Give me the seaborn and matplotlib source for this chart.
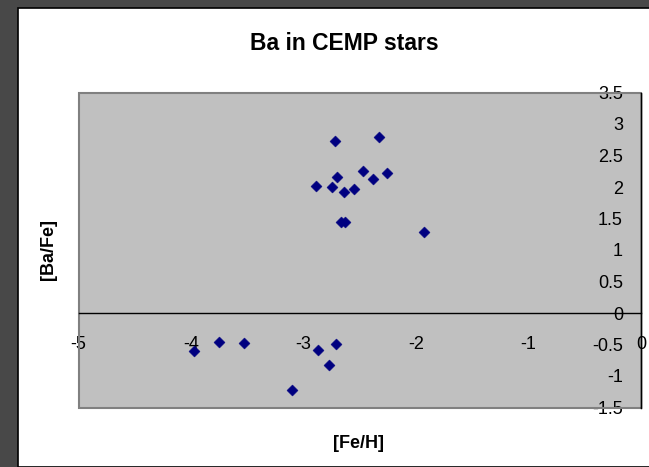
import matplotlib
matplotlib.use("Agg")
import matplotlib.pyplot as plt
from matplotlib.patches import Rectangle
import pandas as pd
import seaborn as sns

# [Fe/H] and [Ba/Fe] abundances of carbon-enhanced metal-poor stars
fe_h = [-3.97, -3.75, -3.53, -3.10, -2.87, -2.77, -2.71,
        -2.89, -2.75, -2.72, -2.70, -2.64, -2.67, -2.63,
        -2.55, -2.47, -2.38, -2.33, -2.26, -1.93]
ba_fe = [-0.60, -0.46, -0.47, -1.23, -0.58, -0.82, -0.49,
         2.02, 2.00, 2.73, 2.16, 1.92, 1.45, 1.45,
         1.97, 2.25, 2.12, 2.80, 2.23, 1.29]

x_ticks = [-5, -4, -3, -2, -1, 0]
y_ticks = [-1.5, -1, -0.5, 0, 0.5, 1, 1.5, 2, 2.5, 3, 3.5]
y_tick_labels = ["-1.5", "-1", "-0.5", "0", "0.5", "1", "1.5", "2", "2.5", "3", "3.5"]

df = pd.DataFrame({"Fe/H": fe_h, "Ba/Fe": ba_fe})

sns.set_style("white")
plt.rcParams["font.family"] = ["Liberation Sans", "DejaVu Sans"]
plt.rcParams["text.color"] = "black"

W, H = 649, 467
fig = plt.figure(figsize=(W / 100, H / 100), dpi=100)
fig.patch.set_facecolor("#484848")

# white chart area with thin black outline
fig.patches.append(Rectangle((17.5 / W, 0), 1 - 17.5 / W + 0.01, (H - 7.5) / H,
                             transform=fig.transFigure, facecolor="white",
                             edgecolor="black", linewidth=1.2, zorder=-5))

left, right, top, bottom = 78.5, 641, 92.5, 407.5
ax = fig.add_axes([left / W, 1 - bottom / H, (right - left) / W, (bottom - top) / H])
ax.set_zorder(1)
ax.set_facecolor("#C0C0C0")

sns.scatterplot(data=df, x="Fe/H", y="Ba/Fe", ax=ax, marker="D", s=32,
                color="#000080", edgecolor="#000080", linewidth=0.3, zorder=5)

ax.set_xlim(-5, 0)
ax.set_ylim(-1.5, 3.5)

# plot-area border (left, top, bottom in grey; the value axis closes the right side)
ax.plot([1, 0, 0, 1], [1, 1, 0, 0], transform=ax.transAxes, color="#808080",
        linewidth=1.5, zorder=1, clip_on=False, solid_joinstyle="miter")
ax.axvline(0, color="black", linewidth=1.0, zorder=4, clip_on=False)

for s in ("top", "right"):
    ax.spines[s].set_visible(False)
ax.spines["bottom"].set_position(("data", 0))
ax.spines["left"].set_position(("data", 0))
for s in ("bottom", "left"):
    ax.spines[s].set_color("black")
    ax.spines[s].set_linewidth(1.0)
    ax.spines[s].set_zorder(3)

ax.set_xticks(x_ticks)
ax.set_xticklabels([str(v) for v in x_ticks])
ax.set_yticks(y_ticks)
ax.set_yticklabels(y_tick_labels)
ax.tick_params(axis="x", direction="out", length=4, width=0.9, color="black",
               pad=12.5, labelsize=13, labelcolor="black")
ax.tick_params(axis="y", direction="out", length=4, width=0.9, color="black",
               pad=9, labelsize=13, labelcolor="black")
ax.set_xlabel("")
ax.set_ylabel("")
ax.grid(False)

fig.text(344 / W, 1 - 44 / H, "Ba in CEMP stars", ha="center", va="center",
         fontsize=16.5, fontweight="bold", color="black")
fig.text(359 / W, 1 - 443 / H, "[Fe/H]", ha="center", va="center",
         fontsize=13, fontweight="bold", color="black")
fig.text(49 / W, 1 - 250 / H, "[Ba/Fe]", ha="center", va="center",
         rotation=90, fontsize=13, fontweight="bold", color="black")

fig.savefig("out.png", dpi=100, facecolor=fig.get_facecolor())
